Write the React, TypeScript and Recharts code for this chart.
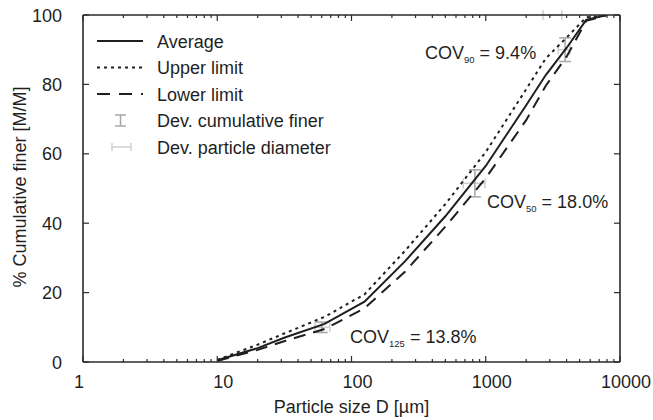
import { ComposedChart, Line, Scatter, ErrorBar, XAxis, YAxis } from 'recharts';

document.body.style.margin = '0';

// sieve sizes [µm] and cumulative finer [%]
const sizes = [10, 20, 31.5, 63, 125, 250, 500, 1000, 2000, 2800, 4000, 5600, 8000];
const average = [0.5, 4, 7, 11, 17.4, 29, 42, 56.5, 74, 82.7, 90.5, 98.6, 100];
const upperLimit = [0.6, 5, 8.2, 13, 19.5, 32, 45.5, 60.5, 78.6, 87.5, 93.5, 99.3, 100];
const lowerLimit = [0.3, 3.5, 6, 9.5, 15.5, 26, 39, 53, 69.7, 79.6, 88, 98.3, 100];

// deviation markers
const covSizes = [60, 830, 3900, 3150];
const covFiner = [10, 51.5, 90, 100];
const covSizeDev = [[6.5, 9], [150, 157], [430, 340], [480, 540]];
const covFinerDev = [1.5, 3.9, 3.4, 0];

const xMajorTicks = [1, 10, 100, 1000, 10000];
const xMinorSteps = [2, 3, 4, 5, 6, 7, 8, 9];
const yTicks = [0, 20, 40, 60, 80, 100];

const xTicks: number[] = [];
xMajorTicks.forEach((m, i) => {
  xTicks.push(m);
  if (i < xMajorTicks.length - 1) xMinorSteps.forEach((s) => xTicks.push(m * s));
});

const table = sizes.map((d, i) => ({ d, avg: average[i], up: upperLimit[i], low: lowerLimit[i] }));
const errTable = covSizes.map((d, i) => ({ d, v: covFiner[i], ex: covSizeDev[i], ey: covFinerDev[i] }));

const FONT = '"Liberation Sans", Arial, sans-serif';
const FS = 18;
const INK = '#1f1f1f';
const AXIS = '#2a2a2a';
const DEV_Y = '#a6a6a6';
const DEV_X = '#cfcfcf';
const DOTTED = '3 4';
const DASHED = '12 8';

const BottomTick = (props: any) => {
  const { x, y, payload } = props;
  const v = payload.value;
  const major = xMajorTicks.includes(v);
  return (
    <g>
      <line x1={x} x2={x} y1={y} y2={y - (major ? 6 : 3)} stroke={AXIS} strokeWidth={1.2} />
      {major && (
        <text x={x + (v === 1 ? -4 : 6)} y={y + 26} textAnchor="middle" fontSize={FS} fontFamily={FONT} fill={INK}>
          {v}
        </text>
      )}
    </g>
  );
};

const TopTick = (props: any) => {
  const { x, y, payload } = props;
  const major = xMajorTicks.includes(payload.value);
  return <line x1={x} x2={x} y1={y} y2={y + (major ? 6 : 3)} stroke={AXIS} strokeWidth={1.2} />;
};

const LeftTick = (props: any) => {
  const { x, y, payload } = props;
  return (
    <g>
      <line x1={x} x2={x + 6} y1={y} y2={y} stroke={AXIS} strokeWidth={1.2} />
      <text x={x - 21} y={y + 6.5} textAnchor="end" fontSize={FS} fontFamily={FONT} fill={INK}>
        {payload.value}
      </text>
    </g>
  );
};

const RightTick = (props: any) => {
  const { x, y } = props;
  return <line x1={x} x2={x - 6} y1={y} y2={y} stroke={AXIS} strokeWidth={1.2} />;
};

const legendRows = ['Average', 'Upper limit', 'Lower limit', 'Dev. cumulative finer', 'Dev. particle diameter'];

function LegendBox() {
  const rowY = (i: number) => 41 + i * 26.5;
  return (
    <svg width={653} height={420} style={{ position: 'absolute', left: 0, top: 0, pointerEvents: 'none' }}>
      <line x1={97} x2={143} y1={rowY(0)} y2={rowY(0)} stroke={INK} strokeWidth={2} />
      <line x1={97} x2={143} y1={rowY(1)} y2={rowY(1)} stroke={INK} strokeWidth={2} strokeDasharray={DOTTED} />
      <line x1={97} x2={143} y1={rowY(2)} y2={rowY(2)} stroke={INK} strokeWidth={2} strokeDasharray="13 9" />
      <g stroke={DEV_Y} strokeWidth={1.5}>
        <line x1={120.5} x2={120.5} y1={rowY(3) - 5.5} y2={rowY(3) + 5.5} />
        <line x1={115} x2={126} y1={rowY(3) - 5.5} y2={rowY(3) - 5.5} />
        <line x1={115} x2={126} y1={rowY(3) + 5.5} y2={rowY(3) + 5.5} />
      </g>
      <g stroke={DEV_X} strokeWidth={1.5}>
        <line x1={112} x2={131} y1={rowY(4)} y2={rowY(4)} />
        <line x1={112} x2={112} y1={rowY(4) - 4} y2={rowY(4) + 4} />
        <line x1={131} x2={131} y1={rowY(4) - 4} y2={rowY(4) + 4} />
      </g>
      {legendRows.map((t, i) => (
        <text key={t} x={157} y={rowY(i) + 6.5} fontSize={FS} fontFamily={FONT} fill={INK}>
          {t}
        </text>
      ))}
    </svg>
  );
}

function Cov({ left, top, sub, value }: { left: number; top: number; sub: string; value: string }) {
  return (
    <div style={{ position: 'absolute', left, top, fontFamily: FONT, fontSize: FS, lineHeight: `${FS}px`, color: INK, whiteSpace: 'nowrap' }}>
      COV<span style={{ fontSize: 9.5, position: 'relative', top: 4 }}>{sub}</span> = {value}
    </div>
  );
}

export default function App() {
  return (
    <div style={{ position: 'relative', width: 653, height: 420, background: '#fff' }}>
      <ComposedChart width={653} height={420} data={table} margin={{ top: 0, right: 0, bottom: 0, left: 0 }}>
        <XAxis
          xAxisId="b"
          dataKey="d"
          type="number"
          scale="log"
          domain={[1, 10000]}
          ticks={xTicks}
          interval={0}
          allowDataOverflow
          height={58}
          tickSize={0}
          tickMargin={0}
          tickLine={false}
          tick={<BottomTick />}
          axisLine={{ stroke: AXIS, strokeWidth: 1.6 }}
        />
        <XAxis
          xAxisId="t"
          orientation="top"
          dataKey="d"
          type="number"
          scale="log"
          domain={[1, 10000]}
          ticks={xTicks}
          interval={0}
          allowDataOverflow
          height={15}
          tickSize={0}
          tickMargin={0}
          tickLine={false}
          tick={<TopTick />}
          axisLine={{ stroke: AXIS, strokeWidth: 1.6 }}
        />
        <YAxis
          yAxisId="l"
          type="number"
          domain={[0, 100]}
          ticks={yTicks}
          interval={0}
          allowDataOverflow
          width={83}
          tickSize={0}
          tickMargin={0}
          tickLine={false}
          tick={<LeftTick />}
          axisLine={{ stroke: AXIS, strokeWidth: 1.6 }}
        />
        <YAxis
          yAxisId="r"
          orientation="right"
          type="number"
          domain={[0, 100]}
          ticks={yTicks}
          interval={0}
          allowDataOverflow
          width={33}
          tickSize={0}
          tickMargin={0}
          tickLine={false}
          tick={<RightTick />}
          axisLine={{ stroke: AXIS, strokeWidth: 1.6 }}
        />
        <Scatter xAxisId="b" yAxisId="l" data={errTable} dataKey="v" shape={() => <g />} isAnimationActive={false}>
          <ErrorBar dataKey="ex" direction="x" width={5} stroke={DEV_X} strokeWidth={1.5} />
          <ErrorBar dataKey="ey" direction="y" width={6} stroke={DEV_Y} strokeWidth={1.5} />
        </Scatter>
        <Line xAxisId="b" yAxisId="l" type="linear" dataKey="up" stroke={INK} strokeWidth={2} strokeDasharray={DOTTED} dot={false} isAnimationActive={false} />
        <Line xAxisId="b" yAxisId="l" type="linear" dataKey="low" stroke={INK} strokeWidth={2} strokeDasharray={DASHED} dot={false} isAnimationActive={false} />
        <Line xAxisId="b" yAxisId="l" type="linear" dataKey="avg" stroke={INK} strokeWidth={2} dot={false} isAnimationActive={false} />
      </ComposedChart>
      <LegendBox />
      <Cov left={425} top={44.2} sub="90" value="9.4%" />
      <Cov left={487} top={192.9} sub="50" value="18.0%" />
      <Cov left={350} top={327.9} sub="125" value="13.8%" />
      <div style={{ position: 'absolute', left: 83, width: 537, top: 397, textAlign: 'center', fontFamily: FONT, fontSize: FS, lineHeight: '21px', color: INK }}>
        Particle size D [µm]
      </div>
      <div
        style={{
          position: 'absolute',
          left: 20,
          top: 187,
          transform: 'translate(-50%, -50%) rotate(-90deg)',
          fontFamily: FONT,
          fontSize: FS,
          lineHeight: '21px',
          color: INK,
          whiteSpace: 'nowrap',
        }}
      >
        % Cumulative finer [M/M]
      </div>
    </div>
  );
}
